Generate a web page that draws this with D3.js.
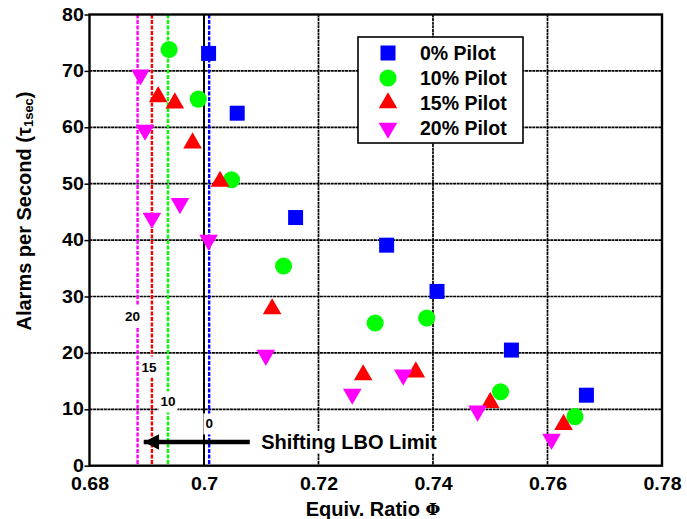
<!DOCTYPE html>
<html><head><meta charset="utf-8">
<script src="https://cdn.jsdelivr.net/npm/d3@7"></script>
<style>body{margin:0;background:#fff}text{font-family:"Liberation Sans",Arial,sans-serif;font-weight:bold}</style>
</head><body><svg id="c" width="687" height="519"></svg>
<script>
const xTicks = [0.68, 0.70, 0.72, 0.74, 0.76, 0.78];
const yTicks = [0, 10, 20, 30, 40, 50, 60, 70, 80];
const seriesNames = ["0% Pilot", "10% Pilot", "15% Pilot", "20% Pilot"];
const seriesColors = ["#0000ff", "#00ff00", "#ff0000", "#ff00ff"];
const seriesShapes = ["square", "circle", "up", "down"];

const pilot0X = [0.7008, 0.7058, 0.7160, 0.7319, 0.7407, 0.7537, 0.7668];
const pilot0Y = [73.1, 62.5, 44.0, 39.1, 30.9, 20.5, 12.5];
const pilot10X = [0.6939, 0.6990, 0.7048, 0.7139, 0.7299, 0.7389, 0.7518, 0.7648];
const pilot10Y = [73.8, 65.0, 50.7, 35.4, 25.3, 26.2, 13.1, 8.7];
const pilot15X = [0.6920, 0.6949, 0.6980, 0.7028, 0.7119, 0.7278, 0.7370, 0.7500, 0.7628];
const pilot15Y = [65.4, 64.3, 57.2, 50.4, 27.8, 16.1, 16.6, 11.2, 7.3];
const pilot20X = [0.6889, 0.6897, 0.6909, 0.6958, 0.7008, 0.7108, 0.7259, 0.7348, 0.7478, 0.7607];
const pilot20Y = [69.3, 59.5, 43.9, 46.5, 40.0, 19.6, 12.7, 16.1, 9.7, 4.7];

const lboNames = ["20", "15", "10", "0"];
const lboX = [0.6884, 0.6909, 0.6937, 0.7009];
const lboColors = ["#ff00ff", "#ff0000", "#00ff00", "#0000ff"];
const lboLabelY = [26.5, 17.5, 11.3, 7.4];

const arrowStart = [0.7080, 4.2];
const arrowEnd = [0.6893, 4.2];
const annotation = "Shifting LBO Limit";
const annotationPos = [0.7100, 4.2];

const xTitle = "Equiv. Ratio ";
const yTitle = "Alarms per Second (";

const allX = [pilot0X, pilot10X, pilot15X, pilot20X];
const allY = [pilot0Y, pilot10Y, pilot15Y, pilot20Y];

const L = 89.5, R = 662, T = 14.5, B = 465.7;
const x = d3.scaleLinear().domain([0.68, 0.78]).range([L, R]);
const y = d3.scaleLinear().domain([0, 80]).range([B, T]);
const svg = d3.select("#c");

// gridlines
const g = svg.append("g");
g.selectAll(".vg").data(xTicks.slice(1, -1)).enter().append("line")
  .attr("x1", d => x(d)).attr("x2", d => x(d)).attr("y1", T).attr("y2", B)
  .attr("stroke", "#000").attr("stroke-width", 1.7).attr("stroke-dasharray", "3,0.6");
g.selectAll(".hg").data(yTicks.slice(1, -1)).enter().append("line")
  .attr("x1", L).attr("x2", R).attr("y1", d => y(d)).attr("y2", d => y(d))
  .attr("stroke", "#000").attr("stroke-width", 1.7).attr("stroke-dasharray", "3,0.6");
g.append("line").attr("x1", x(0.70)).attr("x2", x(0.70)).attr("y1", T).attr("y2", B)
  .attr("stroke", "#000").attr("stroke-width", 1.9);

// LBO dashed lines
lboX.forEach((v, i) => {
  svg.append("line").attr("x1", x(v)).attr("x2", x(v)).attr("y1", T).attr("y2", B)
    .attr("stroke", lboColors[i]).attr("stroke-width", 2.4).attr("stroke-dasharray", "4,1.5");
});
lboX.forEach((v, i) => {
  const t = svg.append("text").attr("x", x(v) - (i === 0 ? 5 : i === 1 ? 3 : 0)).attr("y", y(lboLabelY[i]))
    .attr("text-anchor", "middle").attr("dominant-baseline", "central")
    .attr("font-size", 13.5).text(lboNames[i]);
  const bb = t.node().getBBox();
  svg.insert("rect", "text").attr("x", bb.x - 2).attr("y", bb.y - 3).attr("width", bb.width + 4).attr("height", bb.height + 6)
    .attr("fill", "#fff");
});

// annotation
const at = svg.append("text").attr("x", x(annotationPos[0])).attr("y", y(annotationPos[1]))
  .attr("dominant-baseline", "central").attr("font-size", 20).text(annotation);
const abb = at.node().getBBox();
svg.insert("rect", "text").attr("x", abb.x - 2).attr("y", abb.y).attr("width", abb.width + 4).attr("height", abb.height)
  .attr("fill", "#fff");
svg.append("defs").append("marker").attr("id", "ah").attr("viewBox", "0 0 10 10").attr("refX", 10).attr("refY", 5)
  .attr("markerWidth", 4.4).attr("markerHeight", 3.4).attr("markerUnits", "strokeWidth").attr("orient", "auto")
  .append("path").attr("d", "M0,0L10,5L0,10Z").attr("fill", "#000");
svg.append("line").attr("x1", x(arrowStart[0])).attr("y1", y(arrowStart[1]))
  .attr("x2", x(arrowEnd[0]) + 1).attr("y2", y(arrowEnd[1]))
  .attr("stroke", "#000").attr("stroke-width", 4.5).attr("marker-end", "url(#ah)");

// markers
function sym(shape) {
  if (shape === "square") return d3.symbol(d3.symbolSquare, 225)();
  if (shape === "circle") return d3.symbol(d3.symbolCircle, 230)();
  return d3.symbol(d3.symbolTriangle, 150)();
}
allX.forEach((xs, s) => {
  svg.append("g").selectAll("path").data(xs.map((v, i) => [v, allY[s][i]])).enter().append("path")
    .attr("d", sym(seriesShapes[s]))
    .attr("transform", d => `translate(${x(d[0])},${y(d[1])})` + (seriesShapes[s] === "down" ? " rotate(180)" : ""))
    .attr("fill", seriesColors[s]);
});

// frame
svg.append("rect").attr("x", L).attr("y", T).attr("width", R - L).attr("height", B - T)
  .attr("fill", "none").attr("stroke", "#000").attr("stroke-width", 2.4);

// axes
const xa = svg.append("g").attr("transform", `translate(0,${B})`)
  .call(d3.axisBottom(x).tickValues(xTicks).tickFormat(d => d3.format("")(+d.toFixed(2))).tickSize(0).tickPadding(12));
const ya = svg.append("g").attr("transform", `translate(${L},0)`)
  .call(d3.axisLeft(y).tickValues(yTicks).tickSize(0).tickPadding(6));
[xa, ya].forEach(a => {
  a.select(".domain").remove();
  a.selectAll("text").attr("font-size", 17.5).attr("fill", "#000")
    .style("font-family", '"Liberation Sans",Arial,sans-serif').style("font-weight", "bold");
});
xa.selectAll("text").attr("transform", "scale(1.12,1)");
ya.selectAll("text").attr("transform", "scale(1.12,1)").attr("x", -5);
ya.selectAll(".tick").append("line").attr("x1", -5).attr("x2", 0).attr("stroke", "#000").attr("stroke-width", 1.5);

// legend
const lg = svg.append("g").attr("transform", "translate(358,37)");
lg.append("rect").attr("width", 165).attr("height", 106).attr("fill", "#fff").attr("stroke", "#000").attr("stroke-width", 1.6);
seriesNames.forEach((n, i) => {
  const yy = 16 + i * 25;
  lg.append("path").attr("d", sym(seriesShapes[i]))
    .attr("transform", `translate(30,${yy})` + (seriesShapes[i] === "down" ? " rotate(180)" : ""))
    .attr("fill", seriesColors[i]);
  lg.append("text").attr("x", 62).attr("y", yy).attr("dominant-baseline", "central").attr("font-size", 19.5).text(n);
});

// titles
const xt = svg.append("text").attr("x", 373).attr("y", 509).attr("text-anchor", "middle")
  .attr("dominant-baseline", "central").attr("font-size", 20);
xt.append("tspan").text(xTitle);
xt.append("tspan").style("font-family", '"DejaVu Serif",serif').attr("font-size", 17).text("Φ");

const yt = svg.append("text").attr("transform", `translate(24,211) rotate(-90)`).attr("text-anchor", "middle")
  .attr("dominant-baseline", "central").attr("font-size", 20);
yt.append("tspan").text(yTitle);
yt.append("tspan").text("τ");
yt.append("tspan").attr("font-size", 13).attr("dy", 4).text("1sec");
yt.append("tspan").attr("dy", -4).text(")");
</script></body></html>
